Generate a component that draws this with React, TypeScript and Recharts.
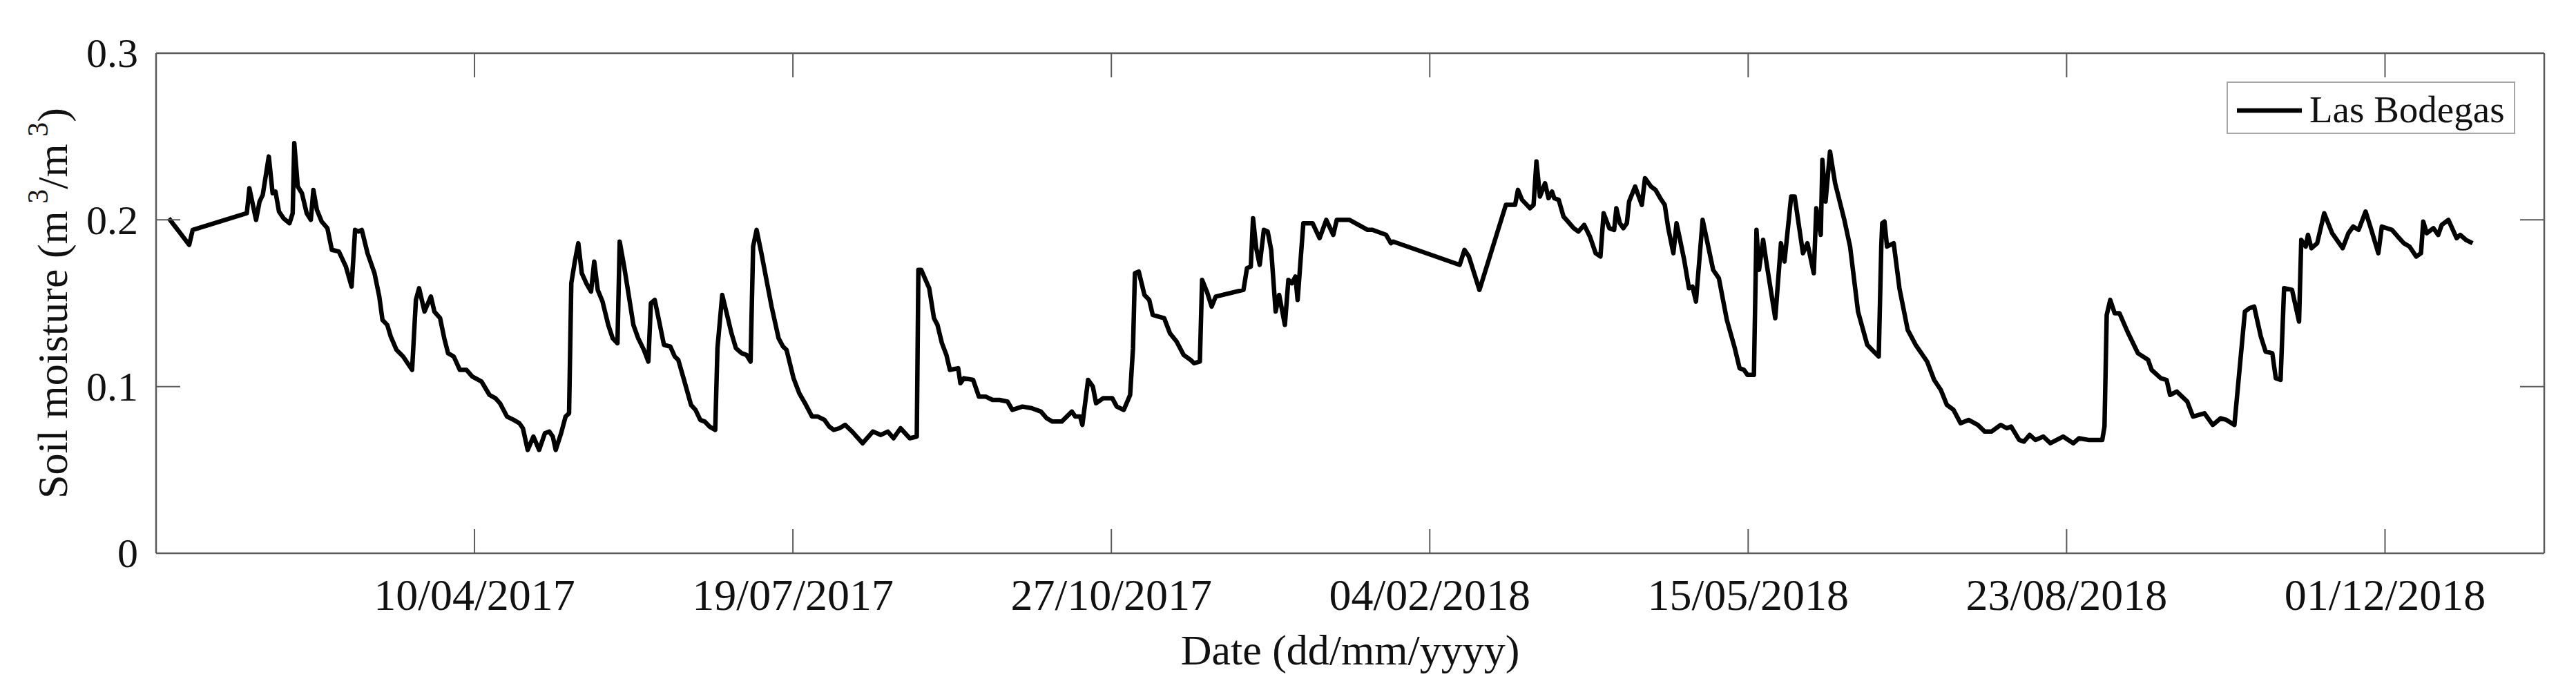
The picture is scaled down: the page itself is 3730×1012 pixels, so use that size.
import React from "react";
import { Legend, Line, LineChart, XAxis, YAxis } from "recharts";

// days counted from 31/12/2016
const DAYS = [
  4, 10.4, 11.5, 28.5, 29.3, 31.4, 32.5, 33.5, 35.4, 36.6, 37.5, 38.6, 40, 41.9, 42.9, 43.4, 44.5, 45.8, 47.3, 48.6,
  49.4, 50.5, 52, 53.8, 55.2, 57.4, 59.6, 61.4, 62.5, 63.5, 64.6, 66.4, 68.6, 70.1, 71.1, 72.6, 73.7, 75.5, 77.6, 80.4,
  81.6, 82.6, 84.3, 86.3, 87.4, 89.2, 90.5, 91.7, 93.5, 95.4, 97.5, 99.3, 102.2, 104.7, 106.6, 108,
  110.2, 112.3, 114.1, 115.2, 116.7, 118.5, 120.3, 122.1, 123.5, 124.6, 125.5, 127.2, 128.6, 129.7, 130.4, 131.5, 132.6,
  133.7, 135.1, 136.6, 137.6, 138.7, 140.2, 142, 143.4, 144.9, 145.6, 147, 148.5, 149.9, 151.4, 153.2, 154.6, 155.4,
  156.6, 157.9, 159.5, 161.5, 162.9, 164, 165.8, 168, 169.4, 170.9, 172.3, 173.8, 175.6, 176.3, 177.8, 179.2, 180.7,
  182.1, 183.9, 185.4, 186.7, 187.5, 188.6, 190.1, 191.9, 193.3, 195.5, 196.9, 198, 200.2, 202, 203.8, 206, 207.8,
  209.9, 211.4, 212.8, 214.6, 216.4,
  218.6, 221.9, 225.1, 227.6, 229.8, 231.6, 233.8, 236.7, 238.9, 239.4, 240.3, 242.8, 244.3, 245.4, 246.8, 248.2,
  249.3, 251.9, 252.6, 253.7, 256.6, 258.4, 260.5, 262.7, 264.9, 267.4, 268.9, 272.1, 275, 277.9, 279.7, 281.5, 284.4,
  287.6, 288.7, 290.2, 290.9, 292.7, 294.2, 295.2, 297.4, 300.3, 301.7, 303.9, 305.9, 306.8, 307.4, 308.6, 310.4,
  311.9, 313, 314.8, 316.6, 318.4, 320.5, 322.7, 324.9,
  326, 327.8, 328.5, 330, 331.5, 332.8, 341.5, 342.6, 343.8, 344.5, 345.5, 346.6, 347.9, 349.1, 350.2, 351.6, 352.7,
  354.5, 355.6, 356.7, 357.8, 358.5, 360.3, 363.2, 365.4, 367.5, 369.7, 370.8, 374.8, 380.5, 382, 386.3, 387.8, 388.5,
  409.4, 410.9, 412.3, 415.6, 423.9, 426.8, 427.7, 429, 431.5, 432.6, 433.5,
  434.6, 436.2, 437.3, 438.4, 439.1, 440.5, 442, 443.4, 445.2, 446.7, 448.5, 450.3, 452.1, 453.6, 454.6, 456.4, 457.9,
  458.6, 459.7, 460.8, 461.9, 462.6, 464.5, 466.6, 467.6, 469.5, 470.9, 472.4, 473.8, 474.9, 476.5, 477.5, 478.5,
  479.9, 481.4, 482.5, 483.6, 485.7, 486.8, 489, 490.8, 493.3, 495.8, 497.3, 498.7, 499.8, 501.8, 502.6, 503.4, 504.7,
  505.6, 508.5, 510.3, 511.4, 513.5, 514.6, 517.2, 518.6, 520.6, 521.4, 522.8, 523.3, 524.3, 525.7, 527.3, 530.2, 532,
  534.5, 537.4, 538.9, 541, 541.8,
  542.1, 542.8, 543.6, 545.7, 547.5, 550.1, 552.6, 556.2, 558.4, 560.5, 562.4, 564.5, 566.7, 569.2, 572.1, 574.3,
  576.4, 579.3, 581.2, 582.6, 585.1, 586.6, 588.4, 590.2, 592.7, 594.9, 598.9, 602.1, 603.9, 606.8, 611.2, 611.9,
  612.6, 613.7, 615.1, 616.6, 619.1, 622.4, 625.6, 626.7, 629.6, 631.4, 632.5, 634.6, 637.9, 639.7, 643.3, 645.9,
  648.4, 650.2,
  652.7, 656, 657.4, 658.9, 661, 662.5, 664.6, 665.7, 667.2, 668.3, 670.8, 673, 673.7, 675.1, 675.8, 676.9, 678.7,
  680.9, 683.4, 686.7, 688.5, 690, 691.7, 693.9, 695.7, 697.9, 699, 702.2, 704, 705.9, 707.7, 709.8, 711.3, 712,
  713.1, 715.2, 716.7, 717.8, 719.9, 722.5, 723.6, 725.4, 727.5,
];

const SOIL_MOISTURE = [
  0.201, 0.185, 0.194, 0.204, 0.219, 0.2, 0.211, 0.215, 0.238, 0.216, 0.217, 0.205, 0.201, 0.198, 0.204, 0.246, 0.22,
  0.216, 0.204, 0.2, 0.218, 0.206, 0.199, 0.195, 0.182, 0.181, 0.172, 0.16, 0.194, 0.193, 0.194, 0.18, 0.168, 0.154,
  0.14, 0.137, 0.13, 0.122, 0.118, 0.11, 0.152, 0.159, 0.145, 0.154, 0.145, 0.141, 0.129, 0.12, 0.118, 0.11, 0.11,
  0.106, 0.103, 0.095, 0.093, 0.09,
  0.082, 0.08, 0.078, 0.075, 0.062, 0.07, 0.062, 0.072, 0.073, 0.07, 0.062, 0.072, 0.082, 0.084, 0.162, 0.175, 0.186,
  0.168, 0.162, 0.157, 0.175, 0.158, 0.151, 0.137, 0.129, 0.126, 0.187, 0.172, 0.154, 0.137, 0.129, 0.122, 0.115, 0.15,
  0.152, 0.14, 0.125, 0.124, 0.118, 0.116, 0.104, 0.089, 0.086, 0.08, 0.079, 0.076, 0.074, 0.123, 0.155, 0.144, 0.132,
  0.123, 0.12, 0.119, 0.115, 0.184, 0.194, 0.18, 0.162, 0.148, 0.129, 0.124, 0.122, 0.105, 0.096, 0.09, 0.082, 0.082,
  0.08, 0.076, 0.074, 0.075, 0.077,
  0.073, 0.066, 0.073, 0.071, 0.073, 0.069, 0.075, 0.069, 0.07, 0.17, 0.17, 0.159, 0.141, 0.137, 0.126, 0.119,
  0.11, 0.111, 0.102, 0.105, 0.104, 0.094, 0.094, 0.092, 0.092, 0.091, 0.086, 0.088, 0.087, 0.085, 0.081, 0.079, 0.079,
  0.085, 0.082, 0.082, 0.077, 0.104, 0.1, 0.09, 0.093, 0.093, 0.088, 0.086, 0.095, 0.123, 0.168, 0.169, 0.155,
  0.152, 0.143, 0.142, 0.141, 0.132, 0.127, 0.119, 0.116,
  0.114, 0.115, 0.164, 0.157, 0.148, 0.154, 0.158, 0.171, 0.172, 0.201, 0.183, 0.173, 0.194, 0.193, 0.182, 0.145, 0.155,
  0.137, 0.164, 0.162, 0.166, 0.152, 0.198, 0.198, 0.189, 0.2, 0.191, 0.2, 0.2, 0.194, 0.194, 0.191, 0.186, 0.187,
  0.173, 0.182, 0.178, 0.158, 0.209, 0.209, 0.218, 0.212, 0.207, 0.209, 0.235,
  0.214, 0.222, 0.213, 0.217, 0.213, 0.212, 0.202, 0.199, 0.195, 0.193, 0.197, 0.19, 0.18, 0.178, 0.204, 0.195, 0.194,
  0.207, 0.198, 0.195, 0.198, 0.211, 0.22, 0.209, 0.225, 0.22, 0.218, 0.213, 0.209, 0.195, 0.18, 0.198, 0.189,
  0.176, 0.159, 0.16, 0.151, 0.2, 0.19, 0.17, 0.165, 0.14, 0.123, 0.111, 0.11, 0.107, 0.107, 0.194, 0.17, 0.188,
  0.176, 0.141, 0.186, 0.175, 0.214, 0.214, 0.18, 0.186, 0.168, 0.207, 0.191, 0.236, 0.211, 0.241, 0.222, 0.2, 0.184,
  0.145, 0.125, 0.122, 0.118, 0.184,
  0.198, 0.199, 0.184, 0.186, 0.159, 0.134, 0.125, 0.115, 0.104, 0.098, 0.089, 0.086, 0.078, 0.08, 0.077, 0.073,
  0.073, 0.077, 0.075, 0.076, 0.068, 0.067, 0.071, 0.068, 0.07, 0.066, 0.07, 0.066, 0.069, 0.068, 0.068, 0.076,
  0.143, 0.152, 0.144, 0.144, 0.133, 0.12, 0.116, 0.11, 0.105, 0.104, 0.095, 0.097, 0.091, 0.082, 0.084, 0.077,
  0.081, 0.08,
  0.077, 0.145, 0.147, 0.148, 0.13, 0.121, 0.12, 0.105, 0.104, 0.159, 0.158, 0.139, 0.188, 0.184, 0.191, 0.183, 0.186,
  0.204, 0.192, 0.183, 0.192, 0.196, 0.194, 0.205, 0.194, 0.18, 0.196, 0.194, 0.19, 0.186, 0.184, 0.178, 0.18, 0.199,
  0.192, 0.195, 0.191, 0.197, 0.2, 0.189, 0.191, 0.188, 0.186,
];

const X_TICKS = [100, 200, 300, 400, 500, 600, 700];
const X_TICK_LABELS = ["10/04/2017", "19/07/2017", "27/10/2017", "04/02/2018", "15/05/2018", "23/08/2018", "01/12/2018"];
const Y_TICKS = [0, 0.1, 0.2, 0.3];
const Y_TICK_LABELS = ["0", "0.1", "0.2", "0.3"];
const SERIES_NAME = "Las Bodegas";

const data = DAYS.map((day, i) => ({ day, moisture: SOIL_MOISTURE[i] }));

const FONT = '"Liberation Serif", "Times New Roman", Times, serif';
const AXIS_COLOR = "#5a5a5a";
const TEXT_COLOR = "#111";
const TICK_LEN = 35;
const LINE_WIDTH = 6.5;

const BottomTick = ({ x, y, payload }: any) => (
  <g>
    <line x1={x} x2={x} y1={y} y2={y - TICK_LEN} stroke={AXIS_COLOR} strokeWidth={2} />
    <text x={x} y={y + 82} textAnchor="middle" fontSize={64} fontFamily={FONT} fill={TEXT_COLOR}>
      {X_TICK_LABELS[X_TICKS.indexOf(payload.value)]}
    </text>
  </g>
);

const TopTick = ({ x, y }: any) => (
  <line x1={x} x2={x} y1={y} y2={y + TICK_LEN} stroke={AXIS_COLOR} strokeWidth={2} />
);

const LeftTick = ({ x, y, payload }: any) => (
  <g>
    <line x1={x} x2={x + TICK_LEN} y1={y} y2={y} stroke={AXIS_COLOR} strokeWidth={2} />
    <text x={x - 26} y={y} dy="0.34em" textAnchor="end" fontSize={60} fontFamily={FONT} fill={TEXT_COLOR}>
      {Y_TICK_LABELS[Y_TICKS.indexOf(payload.value)]}
    </text>
  </g>
);

const RightTick = ({ x, y }: any) => (
  <line x1={x} x2={x - TICK_LEN} y1={y} y2={y} stroke={AXIS_COLOR} strokeWidth={2} />
);

const XTitle = ({ viewBox }: any) => (
  <text
    x={viewBox.x + viewBox.width / 2}
    y={viewBox.y + 161}
    textAnchor="middle"
    fontSize={62}
    fontFamily={FONT}
    fill={TEXT_COLOR}
  >
    Date (dd/mm/yyyy)
  </text>
);

const YTitle = ({ viewBox }: any) => {
  const cx = viewBox.x + 97;
  const cy = viewBox.y + viewBox.height / 2;
  return (
    <text
      x={cx}
      y={cy}
      transform={`rotate(-90, ${cx}, ${cy})`}
      textAnchor="middle"
      fontSize={62}
      fontFamily={FONT}
      fill={TEXT_COLOR}
    >
      Soil moisture (m
      <tspan dy={-28} fontSize={42}> 3</tspan>
      <tspan dy={28}>/m</tspan>
      <tspan dy={-28} fontSize={42}> 3</tspan>
      <tspan dy={28}>)</tspan>
    </text>
  );
};

const LegendBox = () => (
  <div
    style={{
      position: "relative",
      width: 418,
      height: 76,
      boxSizing: "border-box",
      border: "2px solid #a6a6a6",
      background: "#fff",
    }}
  >
    <svg width={94} height={10} style={{ position: "absolute", left: 13, top: 35 }}>
      <line x1={0} x2={94} y1={5} y2={5} stroke="#000" strokeWidth={LINE_WIDTH} />
    </svg>
    <span
      style={{
        position: "absolute",
        left: 118,
        top: 11,
        fontFamily: FONT,
        fontSize: 55,
        lineHeight: "55px",
        color: TEXT_COLOR,
        whiteSpace: "nowrap",
      }}
    >
      {SERIES_NAME}
    </span>
  </div>
);

export default function App() {
  return (
    <div style={{ position: "absolute", left: 0, top: 0, width: 3730, height: 1012, background: "#fff" }}>
      <LineChart width={3730} height={1012} data={data} margin={{ top: 47, right: 16, bottom: 0, left: 0 }}>
        <XAxis
          xAxisId="bottom"
          dataKey="day"
          type="number"
          domain={[0, 750]}
          allowDataOverflow
          ticks={X_TICKS}
          height={211}
          tickSize={0}
          tickMargin={0}
          tickLine={false}
          tick={<BottomTick />}
          axisLine={{ stroke: AXIS_COLOR, strokeWidth: 2.5 }}
          label={<XTitle />}
        />
        <XAxis
          xAxisId="top"
          orientation="top"
          dataKey="day"
          type="number"
          domain={[0, 750]}
          allowDataOverflow
          ticks={X_TICKS}
          height={30}
          tickSize={0}
          tickMargin={0}
          tickLine={false}
          tick={<TopTick />}
          axisLine={{ stroke: AXIS_COLOR, strokeWidth: 2.5 }}
        />
        <YAxis
          yAxisId="left"
          type="number"
          domain={[0, 0.3]}
          allowDataOverflow
          ticks={Y_TICKS}
          width={226}
          tickSize={0}
          tickMargin={0}
          tickLine={false}
          tick={<LeftTick />}
          axisLine={{ stroke: AXIS_COLOR, strokeWidth: 2.5 }}
          label={<YTitle />}
        />
        <YAxis
          yAxisId="right"
          orientation="right"
          type="number"
          domain={[0, 0.3]}
          allowDataOverflow
          ticks={Y_TICKS}
          width={30}
          tickSize={0}
          tickMargin={0}
          tickLine={false}
          tick={<RightTick />}
          axisLine={{ stroke: AXIS_COLOR, strokeWidth: 2.5 }}
        />
        <Legend
          layout="vertical"
          align="center"
          verticalAlign="middle"
          wrapperStyle={{ left: 3224, top: 118, width: 418, height: 76 }}
          content={<LegendBox />}
        />
        <Line
          xAxisId="bottom"
          yAxisId="left"
          type="linear"
          dataKey="moisture"
          name={SERIES_NAME}
          stroke="#000"
          strokeWidth={LINE_WIDTH}
          strokeLinejoin="round"
          dot={false}
          activeDot={false}
          isAnimationActive={false}
        />
      </LineChart>
    </div>
  );
}
